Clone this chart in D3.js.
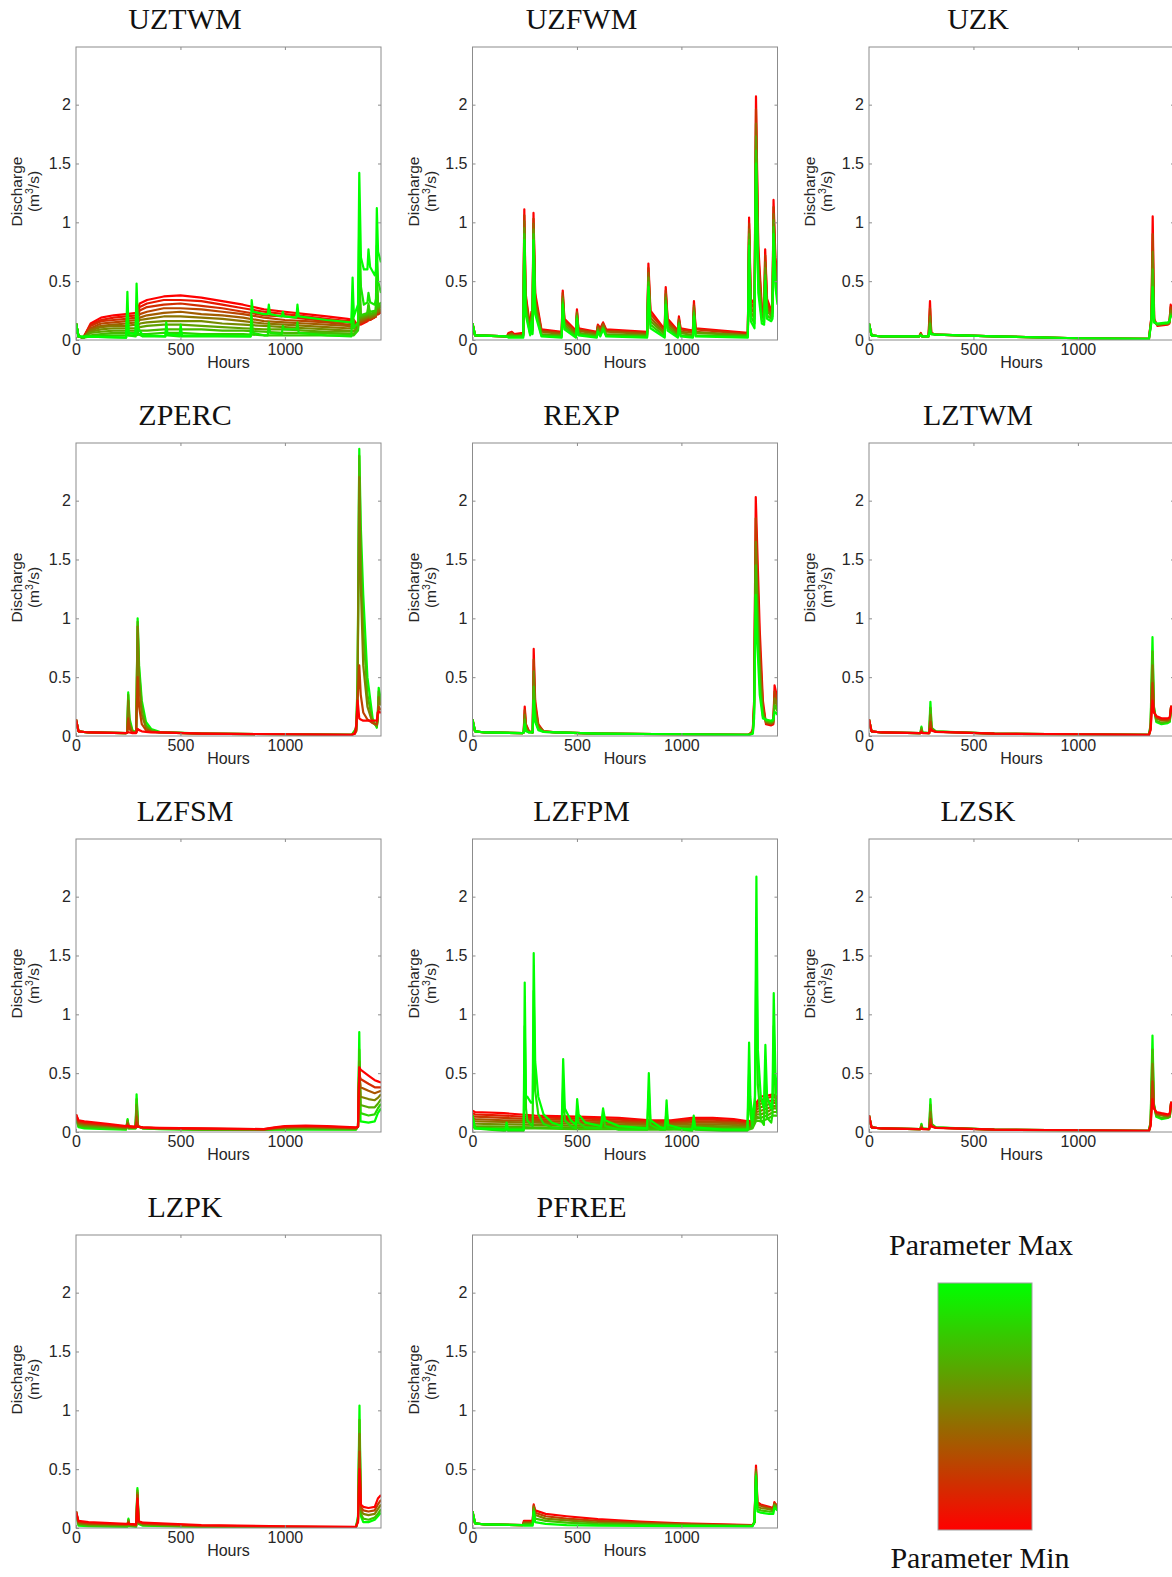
<!DOCTYPE html>
<html>
<head>
<meta charset="utf-8">
<script src="https://cdn.jsdelivr.net/npm/d3@7"></script>
<style>
  body { margin: 0; background: #fff; }
</style>
</head>
<body>
<svg id="chart" width="1172" height="1577"></svg>
<script>
// ---------------------------------------------------------------
// Discharge (m3/s) simulated over ~1460 hours, one small multiple per
// Sacramento model parameter. Each run sweeps one parameter from its
// minimum (red, first row) to its maximum (green, last row).
// Every run is a row of values aligned with the hour grid of its group.
// ---------------------------------------------------------------

const PANEL_TITLES = ["UZTWM", "UZFWM", "UZK", "ZPERC", "REXP", "LZTWM",
                      "LZFSM", "LZFPM", "LZSK", "LZPK", "PFREE"];
const X_DOMAIN = [0, 1460];
const Y_DOMAIN = [0, 2.49];
const X_TICKS = [0, 500, 1000];
const Y_TICKS = [0, 0.5, 1, 1.5, 2];
const X_LABEL = "Hours";
const Y_LABEL = "Discharge";
const LEGEND_TOP = "Parameter Max";
const LEGEND_BOTTOM = "Parameter Min";

// ---- UZTWM ----
const UZTWM_HUMP_H = [0,12,35,70,120,180,240,290,305,340,420,500,600,700,800,900,1000,1100,1200,1300,1330,1350,1356,1362,1395,1400,1406,1435,1440,1446,1460];
const UZTWM_HUMP = [
  [.14,.03,.02,.14,.19,.21,.22,.23,.31,.34,.37,.38,.36,.33,.30,.26,.24,.22,.20,.18,.17,.12,.2,.13,.16,.17,.17,.2,.22,.22,.24],
  [.14,.03,.02,.13,.17,.19,.2,.21,.28,.31,.34,.34,.33,.30,.27,.24,.22,.2,.18,.16,.16,.12,.23,.14,.165,.18,.17,.2,.24,.22,.24],
  [.14,.03,.02,.12,.16,.17,.18,.19,.25,.28,.30,.31,.29,.27,.24,.21,.2,.18,.16,.15,.14,.12,.26,.14,.17,.19,.17,.2,.27,.22,.24],
  [.14,.03,.02,.10,.14,.15,.16,.17,.22,.24,.27,.27,.26,.24,.22,.19,.17,.16,.15,.13,.13,.12,.3,.15,.18,.2,.18,.2,.3,.23,.25],
  [.14,.03,.02,.09,.12,.13,.14,.15,.19,.21,.23,.24,.22,.21,.19,.16,.15,.14,.13,.12,.11,.11,.35,.16,.19,.22,.19,.21,.33,.24,.26],
  [.14,.03,.02,.08,.11,.12,.12,.13,.17,.18,.2,.2,.19,.18,.16,.14,.13,.12,.11,.10,.1,.11,.4,.17,.19,.23,.19,.21,.36,.24,.26],
  [.14,.03,.02,.07,.09,.1,.1,.1,.14,.15,.16,.16,.16,.14,.13,.12,.11,.1,.09,.08,.08,.1,.45,.18,.2,.25,.2,.22,.4,.26,.28],
  [.14,.03,.02,.06,.07,.08,.08,.08,.11,.12,.13,.13,.12,.11,.1,.09,.09,.08,.07,.07,.07,.1,.5,.19,.21,.27,.21,.23,.45,.27,.29],
  [.14,.03,.02,.04,.05,.06,.06,.06,.08,.08,.09,.09,.09,.08,.08,.07,.06,.06,.06,.05,.05,.09,.6,.2,.22,.29,.22,.24,.5,.28,.3],
  [.14,.03,.02,.03,.04,.04,.04,.04,.05,.05,.06,.06,.05,.05,.05,.04,.04,.04,.04,.04,.04,.08,.7,.21,.23,.31,.24,.25,.55,.29,.32]
];
const UZTWM_SPIKE_H = [0,12,240,246,252,285,290,297,320,428,432,438,496,501,507,836,841,847,900,918,923,929,985,990,996,1055,1060,1066,1200,1318,1324,1330,1350,1356,1364,1378,1395,1400,1408,1430,1436,1440,1446,1460];
const UZTWM_SPIKE = [
  [.14,.03,.02,.25,.04,.03,.3,.05,.03,.03,.1,.04,.03,.08,.03,.03,.2,.06,.04,.04,.15,.06,.05,.12,.09,.09,.15,.06,.04,.03,.4,.1,.15,1.0,.45,.3,.32,.4,.32,.3,.35,.8,.5,.4],
  [.14,.03,.02,.41,.06,.05,.48,.1,.04,.03,.15,.05,.04,.13,.04,.03,.34,.24,.22,.22,.3,.22,.2,.24,.2,.19,.3,.2,.17,.15,.53,.2,.3,1.42,.7,.6,.6,.77,.62,.55,.6,1.12,.75,.66]
];

// ---- UZFWM ----
const UZFWM_H = [0,12,165,172,188,200,243,248,254,276,282,287,292,300,330,427,432,440,495,500,507,595,600,612,625,640,836,842,852,920,925,934,983,988,996,1055,1060,1068,1318,1324,1332,1350,1357,1368,1385,1396,1401,1410,1430,1436,1441,1450,1460];
const UZFWM_RUNS = [
  [.14,.04,.03,.06,.07,.05,.06,1.11,.4,.1,.24,.12,1.08,.4,.09,.07,.42,.18,.08,.26,.1,.07,.13,.1,.15,.09,.07,.65,.25,.09,.45,.18,.08,.2,.1,.08,.33,.1,.06,1.04,.35,.3,2.07,.8,.28,.25,.77,.35,.25,.3,1.19,.7,.55],
  [.14,.04,.03,.05,.06,.04,.05,1.06,.37,.09,.22,.11,1.03,.36,.08,.06,.40,.16,.07,.24,.09,.06,.12,.09,.14,.08,.06,.61,.22,.08,.42,.16,.07,.18,.09,.07,.30,.09,.05,.99,.32,.26,1.96,.72,.25,.23,.72,.32,.23,.28,1.13,.65,.50],
  [.14,.04,.03,.04,.05,.04,.04,1.01,.33,.08,.20,.09,.99,.33,.07,.05,.37,.15,.06,.23,.08,.05,.11,.07,.13,.07,.05,.57,.19,.06,.39,.14,.06,.17,.07,.06,.28,.07,.04,.94,.28,.22,1.84,.64,.22,.20,.66,.28,.21,.25,1.07,.60,.45],
  [.14,.04,.03,.04,.04,.03,.04,.95,.3,.06,.19,.08,.94,.29,.05,.04,.35,.13,.04,.21,.06,.04,.09,.06,.11,.05,.04,.53,.16,.05,.36,.12,.04,.15,.06,.04,.25,.06,.04,.90,.24,.18,1.73,.56,.20,.18,.61,.25,.20,.23,1.02,.55,.40],
  [.14,.04,.03,.03,.03,.03,.03,.90,.26,.05,.17,.06,.90,.25,.04,.03,.32,.11,.03,.20,.05,.03,.08,.04,.10,.04,.03,.49,.13,.03,.33,.1,.03,.14,.04,.03,.23,.04,.03,.85,.2,.14,1.61,.48,.17,.15,.55,.21,.18,.20,.96,.50,.35],
  [.14,.04,.03,.02,.02,.02,.02,.85,.22,.04,.15,.05,.85,.22,.03,.02,.3,.09,.02,.18,.04,.02,.07,.03,.09,.03,.02,.45,.1,.02,.3,.08,.02,.12,.03,.02,.2,.03,.02,.8,.16,.1,1.5,.4,.14,.13,.5,.18,.16,.18,.9,.45,.3]
];

// ---- UZK ----
const UZK_H = [0,12,60,240,248,254,285,292,298,320,600,1000,1340,1352,1358,1365,1380,1430,1438,1444,1452,1460];
const UZK_RUNS = [
  [.14,.04,.03,.03,.06,.03,.03,.33,.06,.045,.03,.015,.01,.2,1.05,.18,.12,.13,.14,.3,.25,.22],
  [.14,.04,.03,.03,.055,.03,.03,.27,.06,.045,.03,.015,.01,.19,.9,.17,.13,.14,.15,.28,.24,.21],
  [.14,.04,.03,.03,.05,.03,.03,.2,.055,.045,.03,.015,.01,.18,.75,.16,.13,.14,.15,.25,.22,.2],
  [.14,.04,.03,.03,.045,.03,.03,.14,.05,.045,.03,.015,.01,.16,.6,.15,.13,.14,.15,.22,.21,.2],
  [.14,.04,.03,.03,.04,.03,.03,.08,.05,.045,.03,.015,.01,.15,.45,.15,.14,.15,.16,.2,.2,.19]
];

// ---- ZPERC ----
const ZPERC_H = [0,12,60,240,245,250,256,270,288,295,302,315,335,360,400,600,1000,1320,1335,1342,1348,1356,1363,1375,1395,1420,1440,1444,1449,1455,1460];
const ZPERC_RUNS = [
  [.14,.04,.03,.025,.03,.03,.03,.025,.025,.06,.05,.04,.035,.03,.03,.02,.015,.01,.02,.1,.3,.15,.14,.13,.13,.13,.13,.2,.21,.2,.2],
  [.14,.04,.03,.025,.03,.15,.06,.03,.03,.5,.25,.1,.05,.035,.03,.02,.015,.01,.02,.04,.3,.6,.35,.2,.14,.11,.1,.15,.25,.23,.22],
  [.14,.04,.03,.025,.03,.3,.1,.035,.03,.93,.45,.18,.07,.04,.03,.02,.015,.01,.03,.05,.4,2.2,1.3,.6,.25,.11,.09,.14,.33,.28,.26],
  [.14,.04,.03,.025,.03,.35,.12,.04,.03,.97,.55,.25,.09,.05,.03,.02,.015,.01,.04,.06,.45,2.38,1.6,.9,.35,.12,.08,.15,.38,.32,.28],
  [.14,.04,.03,.025,.03,.37,.15,.05,.03,1.0,.6,.3,.12,.06,.035,.02,.015,.01,.05,.08,.5,2.44,1.8,1.2,.5,.15,.07,.15,.41,.35,.3]
];

// ---- REXP ----
const REXP_H = [0,12,60,240,245,250,256,270,288,293,300,315,340,400,600,1000,1320,1335,1342,1348,1356,1363,1375,1390,1405,1430,1440,1446,1452,1460];
const REXP_RUNS = [
  [.14,.04,.03,.025,.03,.25,.1,.04,.03,.74,.3,.1,.04,.03,.02,.015,.01,.03,.06,.3,2.03,1.6,.9,.3,.1,.09,.1,.43,.38,.3],
  [.14,.04,.03,.025,.03,.22,.09,.04,.03,.65,.26,.09,.04,.03,.02,.015,.01,.025,.05,.27,1.85,1.4,.75,.25,.11,.1,.11,.38,.34,.27],
  [.14,.04,.03,.025,.03,.18,.07,.035,.03,.55,.21,.08,.04,.03,.02,.015,.01,.02,.04,.24,1.65,1.2,.6,.2,.12,.11,.12,.32,.3,.24],
  [.14,.04,.03,.025,.03,.14,.05,.03,.03,.42,.16,.06,.035,.03,.02,.015,.01,.018,.03,.2,1.45,1.0,.45,.17,.13,.12,.13,.26,.25,.21],
  [.14,.04,.03,.025,.03,.1,.04,.03,.03,.3,.12,.05,.035,.03,.02,.015,.01,.015,.02,.15,1.2,.8,.35,.15,.14,.13,.14,.2,.2,.18]
];

// ---- LZTWM ----
const LZTWM_H = [0,12,60,240,246,251,256,288,294,300,320,600,1000,1340,1348,1357,1364,1375,1400,1430,1440,1446,1452,1460];
const LZTWM_RUNS = [
  [.14,.04,.03,.025,.025,.03,.025,.025,.06,.045,.035,.02,.015,.01,.05,.3,.2,.17,.15,.15,.16,.25,.22,.2],
  [.14,.04,.03,.025,.025,.04,.026,.025,.12,.05,.036,.02,.015,.01,.06,.45,.21,.16,.14,.14,.15,.25,.21,.19],
  [.14,.04,.03,.025,.025,.055,.027,.025,.18,.055,.037,.02,.015,.01,.07,.6,.22,.15,.13,.13,.14,.25,.21,.19],
  [.14,.04,.03,.025,.025,.07,.028,.025,.24,.065,.038,.02,.015,.01,.08,.72,.24,.13,.11,.12,.13,.24,.2,.18],
  [.14,.04,.03,.025,.025,.08,.03,.025,.29,.07,.04,.02,.015,.01,.1,.84,.25,.12,.1,.11,.12,.24,.2,.18]
];

// ---- LZFSM ----
const LZFSM_H = [0,12,40,150,240,247,253,285,290,297,320,400,600,900,950,1000,1100,1200,1340,1350,1356,1362,1400,1430,1445,1460];
const LZFSM_RUNS = [
  [.15,.1,.09,.07,.05,.05,.05,.045,.045,.045,.04,.035,.03,.025,.04,.05,.055,.05,.04,.045,.55,.53,.48,.44,.43,.42],
  [.15,.09,.08,.06,.045,.06,.045,.04,.08,.045,.04,.032,.028,.024,.035,.045,.05,.045,.036,.045,.5,.45,.41,.38,.38,.38],
  [.14,.08,.07,.055,.04,.07,.04,.04,.13,.045,.037,.03,.026,.023,.032,.04,.045,.04,.033,.045,.5,.38,.35,.33,.34,.35],
  [.14,.07,.06,.05,.035,.08,.035,.035,.18,.045,.035,.03,.025,.022,.03,.035,.04,.035,.03,.045,.55,.3,.28,.27,.29,.32],
  [.13,.06,.05,.04,.03,.09,.035,.035,.23,.045,.033,.028,.023,.021,.026,.03,.032,.03,.026,.045,.6,.23,.21,.21,.24,.28],
  [.13,.05,.04,.03,.025,.1,.03,.03,.28,.05,.031,.026,.021,.02,.023,.025,.026,.025,.023,.05,.7,.16,.14,.15,.2,.24],
  [.12,.04,.03,.025,.02,.11,.03,.03,.32,.05,.03,.025,.02,.02,.02,.02,.02,.02,.02,.05,.85,.09,.08,.09,.16,.2]
];

// ---- LZFPM ----
const LZFPM_BAND_H = [0,12,150,300,500,700,850,950,1050,1150,1250,1320,1340,1359,1380,1410,1440,1460];
const LZFPM_BAND = [
  [.18,.17,.16,.14,.13,.12,.1,.1,.12,.12,.11,.09,.1,.25,.3,.31,.32,.3],
  [.16,.15,.14,.125,.115,.105,.09,.09,.105,.105,.095,.08,.09,.23,.27,.29,.3,.28],
  [.14,.13,.12,.11,.1,.09,.08,.08,.09,.09,.085,.07,.08,.21,.24,.26,.27,.26],
  [.12,.11,.1,.095,.085,.08,.07,.07,.08,.08,.075,.06,.07,.19,.21,.23,.25,.24],
  [.1,.09,.085,.08,.07,.065,.06,.06,.065,.065,.06,.05,.06,.17,.18,.2,.22,.22],
  [.08,.07,.065,.06,.055,.05,.045,.045,.05,.05,.045,.04,.05,.15,.15,.17,.2,.2],
  [.06,.05,.045,.04,.04,.035,.035,.035,.035,.035,.035,.03,.04,.13,.12,.14,.17,.17],
  [.04,.035,.03,.03,.025,.025,.02,.02,.025,.025,.02,.02,.03,.1,.09,.11,.14,.14]
];
const LZFPM_SPIKE_H = [0,12,150,158,163,170,240,245,250,256,262,280,288,293,300,315,340,380,427,434,442,470,495,501,508,540,615,625,635,700,836,844,852,900,922,929,936,1000,1052,1059,1066,1200,1316,1324,1330,1340,1352,1359,1366,1380,1395,1402,1410,1430,1436,1442,1450,1460];
const LZFPM_SPIKE = [
  [.14,.03,.01,.01,.05,.01,.01,.01,.9,.2,.1,.06,.05,1.2,.35,.15,.07,.04,.03,.4,.1,.05,.03,.2,.08,.04,.03,.15,.05,.02,.02,.35,.06,.02,.02,.2,.03,.02,.01,.1,.02,.01,.01,.5,.15,.05,.2,1.6,.4,.1,.06,.55,.12,.08,.15,.9,.3,.15],
  [.14,.03,.02,.02,.08,.02,.02,.02,1.27,.3,.3,.25,.25,1.52,.6,.3,.15,.08,.05,.62,.2,.1,.06,.28,.15,.08,.05,.2,.1,.05,.03,.5,.1,.04,.03,.27,.06,.03,.02,.14,.04,.02,.02,.76,.3,.1,.3,2.17,.7,.3,.2,.74,.3,.2,.3,1.18,.5,.3]
];

// ---- LZSK ----
const LZSK_H = [0,12,60,240,246,251,256,288,294,300,320,600,1000,1340,1348,1357,1364,1375,1400,1430,1440,1446,1452,1460];
const LZSK_RUNS = [
  [.14,.04,.03,.025,.025,.03,.025,.025,.06,.045,.035,.02,.015,.01,.05,.28,.2,.17,.16,.15,.16,.25,.22,.21],
  [.14,.04,.03,.025,.025,.04,.026,.025,.11,.05,.036,.02,.015,.01,.06,.43,.21,.16,.15,.14,.15,.25,.22,.2],
  [.14,.04,.03,.025,.025,.05,.027,.025,.17,.055,.037,.02,.015,.01,.07,.58,.22,.15,.14,.13,.14,.25,.21,.19],
  [.14,.04,.03,.025,.025,.06,.028,.025,.23,.06,.038,.02,.015,.01,.08,.7,.23,.14,.12,.12,.13,.24,.21,.19],
  [.14,.04,.03,.025,.025,.07,.03,.025,.28,.07,.04,.02,.015,.01,.09,.82,.24,.13,.11,.12,.13,.24,.2,.18]
];

// ---- LZPK ----
const LZPK_H = [0,12,60,240,246,251,256,288,294,300,320,600,1000,1340,1350,1357,1364,1375,1400,1430,1445,1460];
const LZPK_RUNS = [
  [.14,.06,.05,.035,.035,.04,.035,.03,.25,.06,.045,.025,.015,.01,.05,.5,.2,.18,.17,.18,.25,.28],
  [.14,.05,.04,.03,.03,.05,.03,.025,.28,.05,.04,.02,.012,.008,.06,.65,.18,.15,.14,.15,.2,.24],
  [.14,.04,.03,.025,.025,.06,.025,.02,.3,.045,.03,.015,.01,.006,.07,.8,.15,.12,.11,.12,.16,.2],
  [.14,.03,.02,.015,.015,.07,.02,.015,.32,.04,.025,.012,.008,.005,.08,.92,.12,.08,.07,.09,.12,.16],
  [.14,.02,.015,.01,.01,.08,.015,.01,.34,.035,.02,.01,.006,.004,.1,1.04,.1,.05,.05,.07,.1,.13]
];

// ---- PFREE ----
const PFREE_H = [0,12,60,240,246,252,288,293,300,350,450,600,800,1000,1200,1340,1350,1357,1364,1380,1420,1440,1445,1452,1460];
const PFREE_RUNS = [
  [.14,.04,.03,.025,.06,.06,.06,.2,.15,.12,.1,.075,.055,.04,.03,.025,.05,.53,.22,.2,.18,.17,.22,.2,.19],
  [.14,.04,.03,.025,.05,.05,.05,.19,.13,.1,.08,.06,.045,.035,.027,.022,.05,.5,.2,.19,.17,.16,.21,.2,.18],
  [.14,.04,.03,.025,.04,.04,.04,.18,.11,.08,.065,.045,.035,.028,.023,.02,.05,.48,.18,.17,.16,.15,.2,.19,.17],
  [.14,.04,.03,.025,.03,.03,.03,.16,.08,.06,.045,.033,.026,.022,.019,.017,.05,.46,.16,.15,.14,.14,.19,.18,.16],
  [.14,.04,.03,.025,.02,.02,.02,.14,.05,.035,.025,.02,.018,.016,.015,.014,.05,.44,.14,.13,.12,.12,.17,.16,.15]
];

// Panel table: groups of [hours, runs]; redOnTop draws the minimum run last.
const panels = [
  { groups: [[UZTWM_HUMP_H, UZTWM_HUMP], [UZTWM_SPIKE_H, UZTWM_SPIKE]], redOnTop: false },
  { groups: [[UZFWM_H, UZFWM_RUNS]], redOnTop: false },
  { groups: [[UZK_H, UZK_RUNS]], redOnTop: false },
  { groups: [[ZPERC_H, ZPERC_RUNS]], redOnTop: true },
  { groups: [[REXP_H, REXP_RUNS]], redOnTop: false },
  { groups: [[LZTWM_H, LZTWM_RUNS]], redOnTop: true },
  { groups: [[LZFSM_H, LZFSM_RUNS]], redOnTop: true },
  { groups: [[LZFPM_BAND_H, LZFPM_BAND], [LZFPM_SPIKE_H, LZFPM_SPIKE]], redOnTop: false },
  { groups: [[LZSK_H, LZSK_RUNS]], redOnTop: true },
  { groups: [[LZPK_H, LZPK_RUNS]], redOnTop: true },
  { groups: [[PFREE_H, PFREE_RUNS]], redOnTop: false }
].map((p, i) => ({ ...p, title: PANEL_TITLES[i] }));

// ---- layout ----
const W = 1172, H = 1577;
const PLOT_W = 305, PLOT_H = 293;
const X0 = 76, Y0 = 47, COL_STEP = 396.5, ROW_STEP = 396;
const SANS = '"Liberation Sans", Arial, Helvetica, sans-serif';
const SERIF = '"Liberation Serif", "Times New Roman", Times, serif';
const FRAME = "#8c8c8c";
const INK = "#262626";
const LINE_W = 2.2;
const TICK_FS = 16, LABEL_FS = 15.5;

const minColor = "#ff0000", maxColor = "#00ff00";
const runColor = d3.interpolateRgb(minColor, maxColor);

const svg = d3.select("#chart");
svg.append("rect").attr("width", W).attr("height", H).attr("fill", "#fff");
const defs = svg.append("defs");

panels.forEach((p, i) => {
  const col = i % 3, row = Math.floor(i / 3);
  const left = X0 + col * COL_STEP, top = Y0 + row * ROW_STEP;
  const bottom = top + PLOT_H;

  const x = d3.scaleLinear().domain(X_DOMAIN).range([left, left + PLOT_W]);
  const y = d3.scaleLinear().domain(Y_DOMAIN).range([bottom, top]);

  const g = svg.append("g").attr("class", "panel");

  defs.append("clipPath").attr("id", "clip" + i)
    .append("rect").attr("x", left).attr("y", top)
    .attr("width", PLOT_W).attr("height", PLOT_H);

  // assemble runs ordered from parameter minimum to maximum
  const runs = [];
  p.groups.forEach(([hours, rows]) => {
    rows.forEach(vals => runs.push(hours.map((h, j) => [h, vals[j]])));
  });
  const n = runs.length;
  const items = runs.map((pts, k) => ({ pts, t: n > 1 ? k / (n - 1) : 0 }));
  if (p.redOnTop) items.reverse();

  const line = d3.line()
    .defined(d => d[1] != null && !isNaN(d[1]))
    .x(d => x(d[0]))
    .y(d => y(d[1]));

  g.append("g").attr("clip-path", `url(#clip${i})`)
    .selectAll("path").data(items).join("path")
    .attr("d", d => line(d.pts))
    .attr("fill", "none")
    .attr("stroke", d => runColor(d.t))
    .attr("stroke-width", LINE_W)
    .attr("stroke-linejoin", "round");

  // axes with inward ticks
  const styleAxis = sel => {
    sel.select(".domain").remove();
    sel.attr("color", FRAME).attr("font-family", SANS).attr("font-size", TICK_FS);
    sel.selectAll("text").attr("fill", INK);
  };
  g.append("g").attr("transform", `translate(0,${bottom})`)
    .call(d3.axisBottom(x).tickValues(X_TICKS).tickSizeInner(-3).tickSizeOuter(0)
      .tickPadding(4).tickFormat(d3.format("d")))
    .call(styleAxis);
  g.append("g").attr("transform", `translate(0,${top})`)
    .call(d3.axisTop(x).tickValues(X_TICKS.slice(1)).tickSizeInner(-3).tickSizeOuter(0).tickFormat(""))
    .call(styleAxis);
  g.append("g").attr("transform", `translate(${left},0)`)
    .call(d3.axisLeft(y).tickValues(Y_TICKS).tickSizeInner(-3).tickSizeOuter(0)
      .tickPadding(5).tickFormat(d3.format("~g")))
    .call(styleAxis);
  g.append("g").attr("transform", `translate(${left + PLOT_W},0)`)
    .call(d3.axisRight(y).tickValues(Y_TICKS.slice(1)).tickSizeInner(-3).tickSizeOuter(0).tickFormat(""))
    .call(styleAxis);

  // frame
  g.append("rect").attr("x", left).attr("y", top)
    .attr("width", PLOT_W).attr("height", PLOT_H)
    .attr("fill", "none").attr("stroke", FRAME).attr("stroke-width", 1);

  // x label
  g.append("text").attr("x", left + PLOT_W / 2).attr("y", bottom + 28)
    .attr("text-anchor", "middle").attr("font-family", SANS).attr("font-size", TICK_FS)
    .attr("fill", INK).text(X_LABEL);

  // y label (two lines)
  const cy = top + PLOT_H / 2 - 2;
  g.append("text").attr("transform", `translate(${left - 54},${cy}) rotate(-90)`)
    .attr("text-anchor", "middle").attr("font-family", SANS).attr("font-size", LABEL_FS)
    .attr("fill", INK).text(Y_LABEL);
  const unit = g.append("text").attr("transform", `translate(${left - 37},${cy}) rotate(-90)`)
    .attr("text-anchor", "middle").attr("font-family", SANS).attr("font-size", LABEL_FS)
    .attr("fill", INK);
  unit.append("tspan").text("(m");
  unit.append("tspan").attr("dy", -6).attr("font-size", 10.5).text("3");
  unit.append("tspan").attr("dy", 6).text("/s)");

  // title
  g.append("text").attr("x", left + 109).attr("y", top - 18)
    .attr("text-anchor", "middle").attr("font-family", SERIF).attr("font-size", 30)
    .attr("fill", "#111").text(p.title);
});

// ---- colour legend ----
const grad = defs.append("linearGradient").attr("id", "paramGrad")
  .attr("x1", 0).attr("y1", 1).attr("x2", 0).attr("y2", 0);
d3.range(0, 1.0001, 0.1).forEach(t => {
  grad.append("stop").attr("offset", t).attr("stop-color", runColor(t));
});
const legend = svg.append("g").attr("class", "legend");
legend.append("text").attr("x", 981).attr("y", 1255).attr("text-anchor", "middle")
  .attr("font-family", SERIF).attr("font-size", 30).attr("fill", "#111").text(LEGEND_TOP);
legend.append("rect").attr("x", 938).attr("y", 1283).attr("width", 94).attr("height", 247)
  .attr("fill", "url(#paramGrad)").attr("stroke", "#a0a0a0").attr("stroke-width", 1);
legend.append("text").attr("x", 980).attr("y", 1568).attr("text-anchor", "middle")
  .attr("font-family", SERIF).attr("font-size", 30).attr("fill", "#111").text(LEGEND_BOTTOM);
</script>
</body>
</html>
